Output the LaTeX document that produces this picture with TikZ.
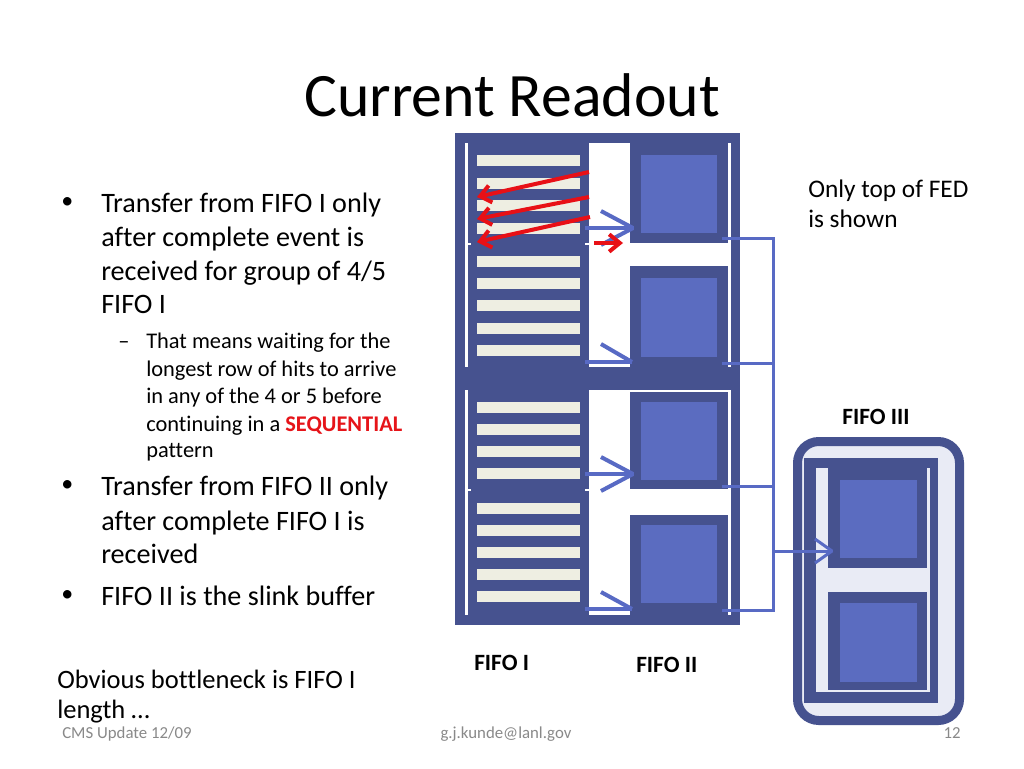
\documentclass[tikz,border=0pt]{standalone}
\usepackage{fontspec}
\setmainfont{Carlito}[Ligatures={NoCommon}]
\usetikzlibrary{arrows.meta}
\definecolor{framec}{RGB}{70,82,143}
\definecolor{boxin}{RGB}{91,108,192}
\definecolor{stripec}{RGB}{238,238,226}
\definecolor{arrowblue}{RGB}{88,106,196}
\definecolor{fifolight}{RGB}{233,235,245}
\definecolor{redarrow}{RGB}{232,16,22}
\definecolor{seqred}{RGB}{230,20,25}
\definecolor{footc}{RGB}{137,137,137}
\begin{document}
\begin{tikzpicture}[x=0.75pt,y=-0.75pt,
  txt/.style={inner sep=0pt, anchor=base west},
  body/.style={txt, font=\fontsize{21.1}{25}\selectfont},
  subt/.style={txt, font=\fontsize{16.8}{20}\selectfont},
  side/.style={txt, font=\fontsize{19.9}{24}\selectfont},
  lbl/.style={txt, font=\fontsize{17.5}{21}\selectfont\bfseries},
  foot/.style={inner sep=0pt, font=\fontsize{12.6}{15}\selectfont, text=footc},
  barrow/.style={draw=arrowblue, line width=3pt, line join=bevel},
  rarrow/.style={draw=redarrow, line width=3pt, -{Straight Barb[length=8pt,width=13pt]}},
  conn/.style={draw=arrowblue, line width=2.25pt}]
\useasboundingbox (0,0) rectangle (1024,768);
\fill[white] (0,0) rectangle (1024,768);

% title
\node[inner sep=0pt, anchor=base, font=\fontsize{46.3}{50}\selectfont] (title) at (512,116) {Current Readout};

% bullets
\node[body, font=\fontsize{18}{22}\selectfont] (d1) at (61,208) {•};
\node[body] (b1) at (101,212) {Transfer from FIFO I only};
\node[body] (b2) at (101,246) {after complete event is};
\node[body] (b3) at (101,280) {received for group of 4/5};
\node[body] (b4) at (101,313) {FIFO I};
\node[subt] (d2) at (118,348) {–};
\node[subt] (s1) at (146,348) {That means waiting for the};
\node[subt] (s2) at (146,376) {longest row of hits to arrive};
\node[subt] (s3) at (146,403) {in any of the 4 or 5 before};
\node[subt] (s4) at (146,431) {continuing in a \textbf{\color{seqred}SEQUENTIAL}};
\node[subt] (s5) at (146,457) {pattern};
\node[body, font=\fontsize{18}{22}\selectfont] (d3) at (61,491) {•};
\node[body] (c1) at (101,495) {Transfer from FIFO II only};
\node[body] (c2) at (101,530) {after complete FIFO I is};
\node[body] (c3) at (101,563) {received};
\node[body, font=\fontsize{18}{22}\selectfont] (d4) at (61,601) {•};
\node[body] (c4) at (101,605) {FIFO II is the slink buffer};

\node[side] (o1) at (57,688) {Obvious bottleneck is FIFO I};
\node[side] (o2) at (57,718) {length …};

\node[side, font=\fontsize{19}{23}\selectfont] (t1) at (808,197) {Only top of FED};
\node[side, font=\fontsize{19}{23}\selectfont] (t2) at (808,227) {is shown};

% footer
\node[foot, anchor=base west] (fl) at (62,738) {CMS Update 12/09};
\node[foot, anchor=base] (fm) at (506,738) {g.j.kunde@lanl.gov};
\node[foot, anchor=base east] (fr) at (961,738) {12};

% ---- FED top: FIFO I and FIFO II ----
\fill[framec] (455,133) rectangle (740,625);
\fill[white] (465,143) rectangle (731,367);
\fill[white] (465,390) rectangle (731,615);
\fill[framec] (468,143) rectangle (589,367);
\fill[framec] (468,390) rectangle (589,615);
\fill[white] (465,243) rectangle (471,245);
\fill[white] (585,243) rectangle (589,245);
\fill[white] (465,489) rectangle (471,491);
\fill[white] (585,489) rectangle (589,491);
\foreach \y in {155,178,200,223,256,278,300,323,345,402,424,446,468,503,525,547,569,591}
  \fill[stripec] (477,\y) rectangle (580,\y+11);

% FIFO II boxes
\fill[framec] (630,143) rectangle (728,243);
\fill[boxin] (641,155) rectangle (717,233);
\fill[framec] (630,266) rectangle (728,367);
\fill[boxin] (641,278) rectangle (717,357);
\fill[framec] (630,392) rectangle (728,489);
\fill[boxin] (641,402) rectangle (717,480);
\fill[framec] (630,515) rectangle (728,615);
\fill[boxin] (641,525) rectangle (717,603);

% blue arrows FIFO I -> FIFO II
\coordinate (aS1) at (585,228); \coordinate (aE1) at (633,228);
\coordinate (aS2) at (585,362); \coordinate (aE2) at (632,362);
\coordinate (aS3) at (585,474); \coordinate (aE3) at (633,474);
\coordinate (aS4) at (585,609); \coordinate (aE4) at (632,609);
\draw[barrow] (aS1) -- (aE1);
\draw[barrow] (601,211) -- (aE1) -- (601,245);
\draw[barrow] (aS2) -- (aE2);
\draw[barrow] (601,344) -- (aE2);
\draw[barrow] (aS3) -- (aE3);
\draw[barrow] (601,457) -- (aE3) -- (601,491);
\draw[barrow] (aS4) -- (aE4);
\draw[barrow] (601,592) -- (aE4);

% red arrows
\coordinate (rS1) at (589,172); \coordinate (rE1) at (477,197);
\coordinate (rS2) at (589,197); \coordinate (rE2) at (477,219);
\coordinate (rS3) at (590,217); \coordinate (rE3) at (477,242);
\coordinate (rS4) at (594,243); \coordinate (rE4) at (623,243);
\draw[rarrow] (rS1) -- (rE1);
\draw[rarrow] (rS2) -- (rE2);
\draw[rarrow] (rS3) -- (rE3);
\draw[rarrow] (rS4) -- (rE4);

% connectors to FIFO III
\coordinate (pA) at (722,238);
\coordinate (pB) at (722,363);
\coordinate (pC) at (722,486);
\coordinate (pD) at (722,610);
\coordinate (busT) at (773,238);
\coordinate (busB) at (773,610);
\coordinate (f3in) at (832,551);

% FIFO III
\draw[framec, fill=fifolight, line width=6.75pt, rounded corners=16pt] (797.5,441.5) rectangle (959.5,720.5);
\fill[framec] (804,458) rectangle (938,703);
\fill[fifolight] (816,468) rectangle (930,692);
\fill[framec] (828,467) rectangle (927,568);
\fill[boxin] (840,480) rectangle (917,558);
\fill[framec] (828,592) rectangle (927,690);
\fill[boxin] (840,603) rectangle (917,682);

\draw[conn] (pA) -- (busT) -- (busB) -- (pD);
\draw[conn] (pB) -- (pB -| busT);
\draw[conn] (pC) -- (pC -| busT);
\draw[conn] (f3in -| busT) -- (f3in);
\draw[conn, line join=bevel] (815,539) -- (f3in) -- (815,563);

% labels
\node[lbl] (lf1) at (474,670) {FIFO I};
\node[lbl] (lf2) at (636,672) {FIFO II};
\node[lbl, anchor=base] (lf3) at (876,424) {FIFO III};
\end{tikzpicture}
\end{document}
